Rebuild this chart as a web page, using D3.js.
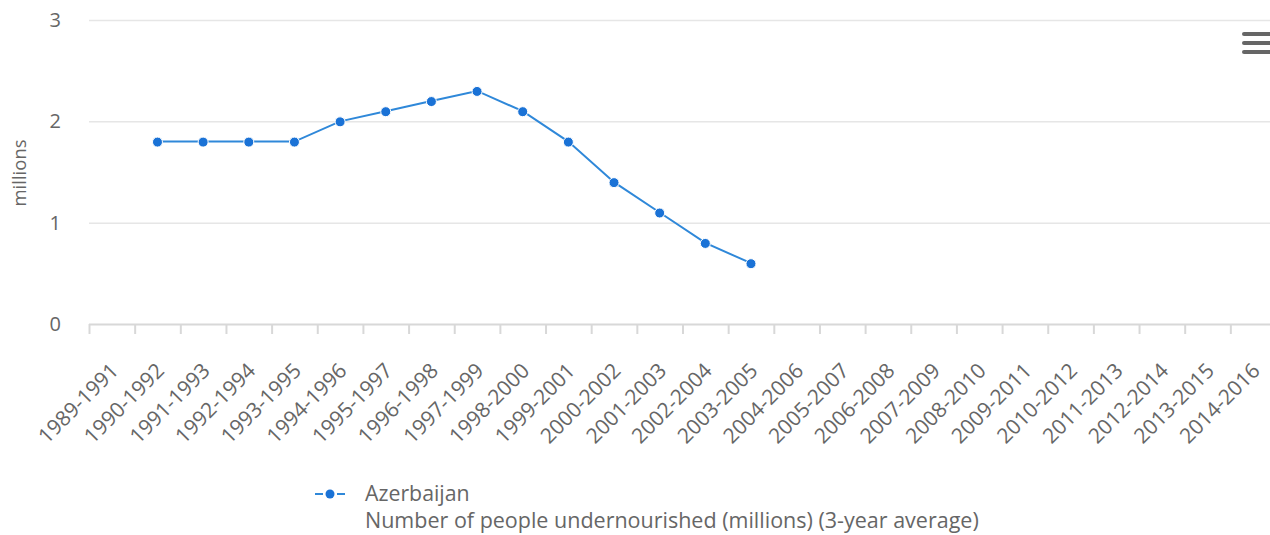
<!DOCTYPE html>
<html><head><meta charset="utf-8">
<script src="https://cdn.jsdelivr.net/npm/d3@7/dist/d3.min.js"></script>
<style>body{margin:0;background:#fff;}svg{display:block;font-family:"Open Sans",sans-serif;}</style>
</head><body><svg id="c" width="1270" height="535"></svg>
<script>
const categories = ["1989-1991","1990-1992","1991-1993","1992-1994","1993-1995","1994-1996","1995-1997","1996-1998","1997-1999","1998-2000","1999-2001","2000-2002","2001-2003","2002-2004","2003-2005","2004-2006","2005-2007","2006-2008","2007-2009","2008-2010","2009-2011","2010-2012","2011-2013","2012-2014","2013-2015","2014-2016"];
const values = [null,1.8,1.8,1.8,1.8,2.0,2.1,2.2,2.3,2.1,1.8,1.4,1.1,0.8,0.6,null,null,null,null,null,null,null,null,null,null,null];
const yTicks = [0,1,2,3];
const seriesName = "Azerbaijan";
const seriesDesc = "Number of people undernourished (millions) (3-year average)";
const yTitle = "millions";

const svg = d3.select("#c");
const pLeft = 89, pRight = 1276, pTop = 20, pBottom = 324;
const x = d3.scaleBand().domain(categories).range([pLeft, pRight]);
const y = d3.scaleLinear().domain([0,3]).range([pBottom, pTop]);

// grid
svg.append("g").selectAll("line").data(yTicks.filter(d=>d>0)).join("line")
  .attr("x1", pLeft).attr("x2", 1270).attr("y1", d=>y(d)+0.5).attr("y2", d=>y(d)+0.5)
  .attr("stroke", "#e6e6e6").attr("stroke-width", 1.5);

// y labels
svg.append("g").selectAll("text").data(yTicks).join("text")
  .attr("x", 61).attr("y", d=>y(d)+7).attr("text-anchor","end")
  .attr("font-size", 20).attr("fill", "#666").text(d=>d);

svg.append("text").attr("transform", "translate(26,173) rotate(-90)")
  .attr("text-anchor","middle").attr("font-size",18.5).attr("fill","#666").text(yTitle);

// x axis
const xAxis = d3.axisBottom(x).tickSize(10).tickFormat(()=>"");
const gx = svg.append("g").attr("transform", `translate(0,${pBottom})`).call(xAxis);
gx.select(".domain").attr("stroke","#d8d8d8").attr("stroke-width",2).attr("d", `M${pLeft},0.5H1270`);
gx.selectAll(".tick").attr("transform", d=>`translate(${x(d)+0.5},0)`);
gx.selectAll(".tick line").attr("stroke","#d8d8d8").attr("stroke-width",2);

svg.append("g").selectAll("text").data(categories).join("text")
  .attr("transform", d=>`translate(${x(d)+x.bandwidth()/2+8},${pBottom+48}) rotate(-45)`)
  .attr("text-anchor","end").attr("font-size",21).attr("fill","#666").text(d=>d);

// line
const pts = categories.map((c,i)=>({c, v: values[i]})).filter(d=>d.v!==null);
const line = d3.line().x(d=>x(d.c)+x.bandwidth()/2).y(d=>y(d.v));
svg.append("path").datum(pts).attr("d", line).attr("fill","none")
  .attr("stroke","#2f88d9").attr("stroke-width",2);
svg.append("g").selectAll("circle").data(pts).join("circle")
  .attr("cx", d=>x(d.c)+x.bandwidth()/2).attr("cy", d=>y(d.v)+0.5).attr("r",5)
  .attr("fill","#1a72d6").attr("stroke","#fff").attr("stroke-width",1);

// legend
const lg = svg.append("g");
lg.selectAll("line").data([[315,323],[337,345]]).join("line")
  .attr("x1",d=>d[0]).attr("x2",d=>d[1]).attr("y1",494).attr("y2",494)
  .attr("stroke","#2f88d9").attr("stroke-width",2);
lg.append("circle").attr("cx",330).attr("cy",494).attr("r",4.5).attr("fill","#1a72d6");
lg.append("text").attr("x",365).attr("y",501).attr("font-size",21.3).attr("fill","#666").text(seriesName);
lg.append("text").attr("x",365).attr("y",528).attr("font-size",21.5).attr("fill","#666").text(seriesDesc);

// menu icon
svg.append("g").selectAll("rect").data([0,1,2]).join("rect")
  .attr("x",1242).attr("y",d=>32+d*9).attr("width",30).attr("height",4).attr("rx",2)
  .attr("fill","#666");
</script></body></html>
